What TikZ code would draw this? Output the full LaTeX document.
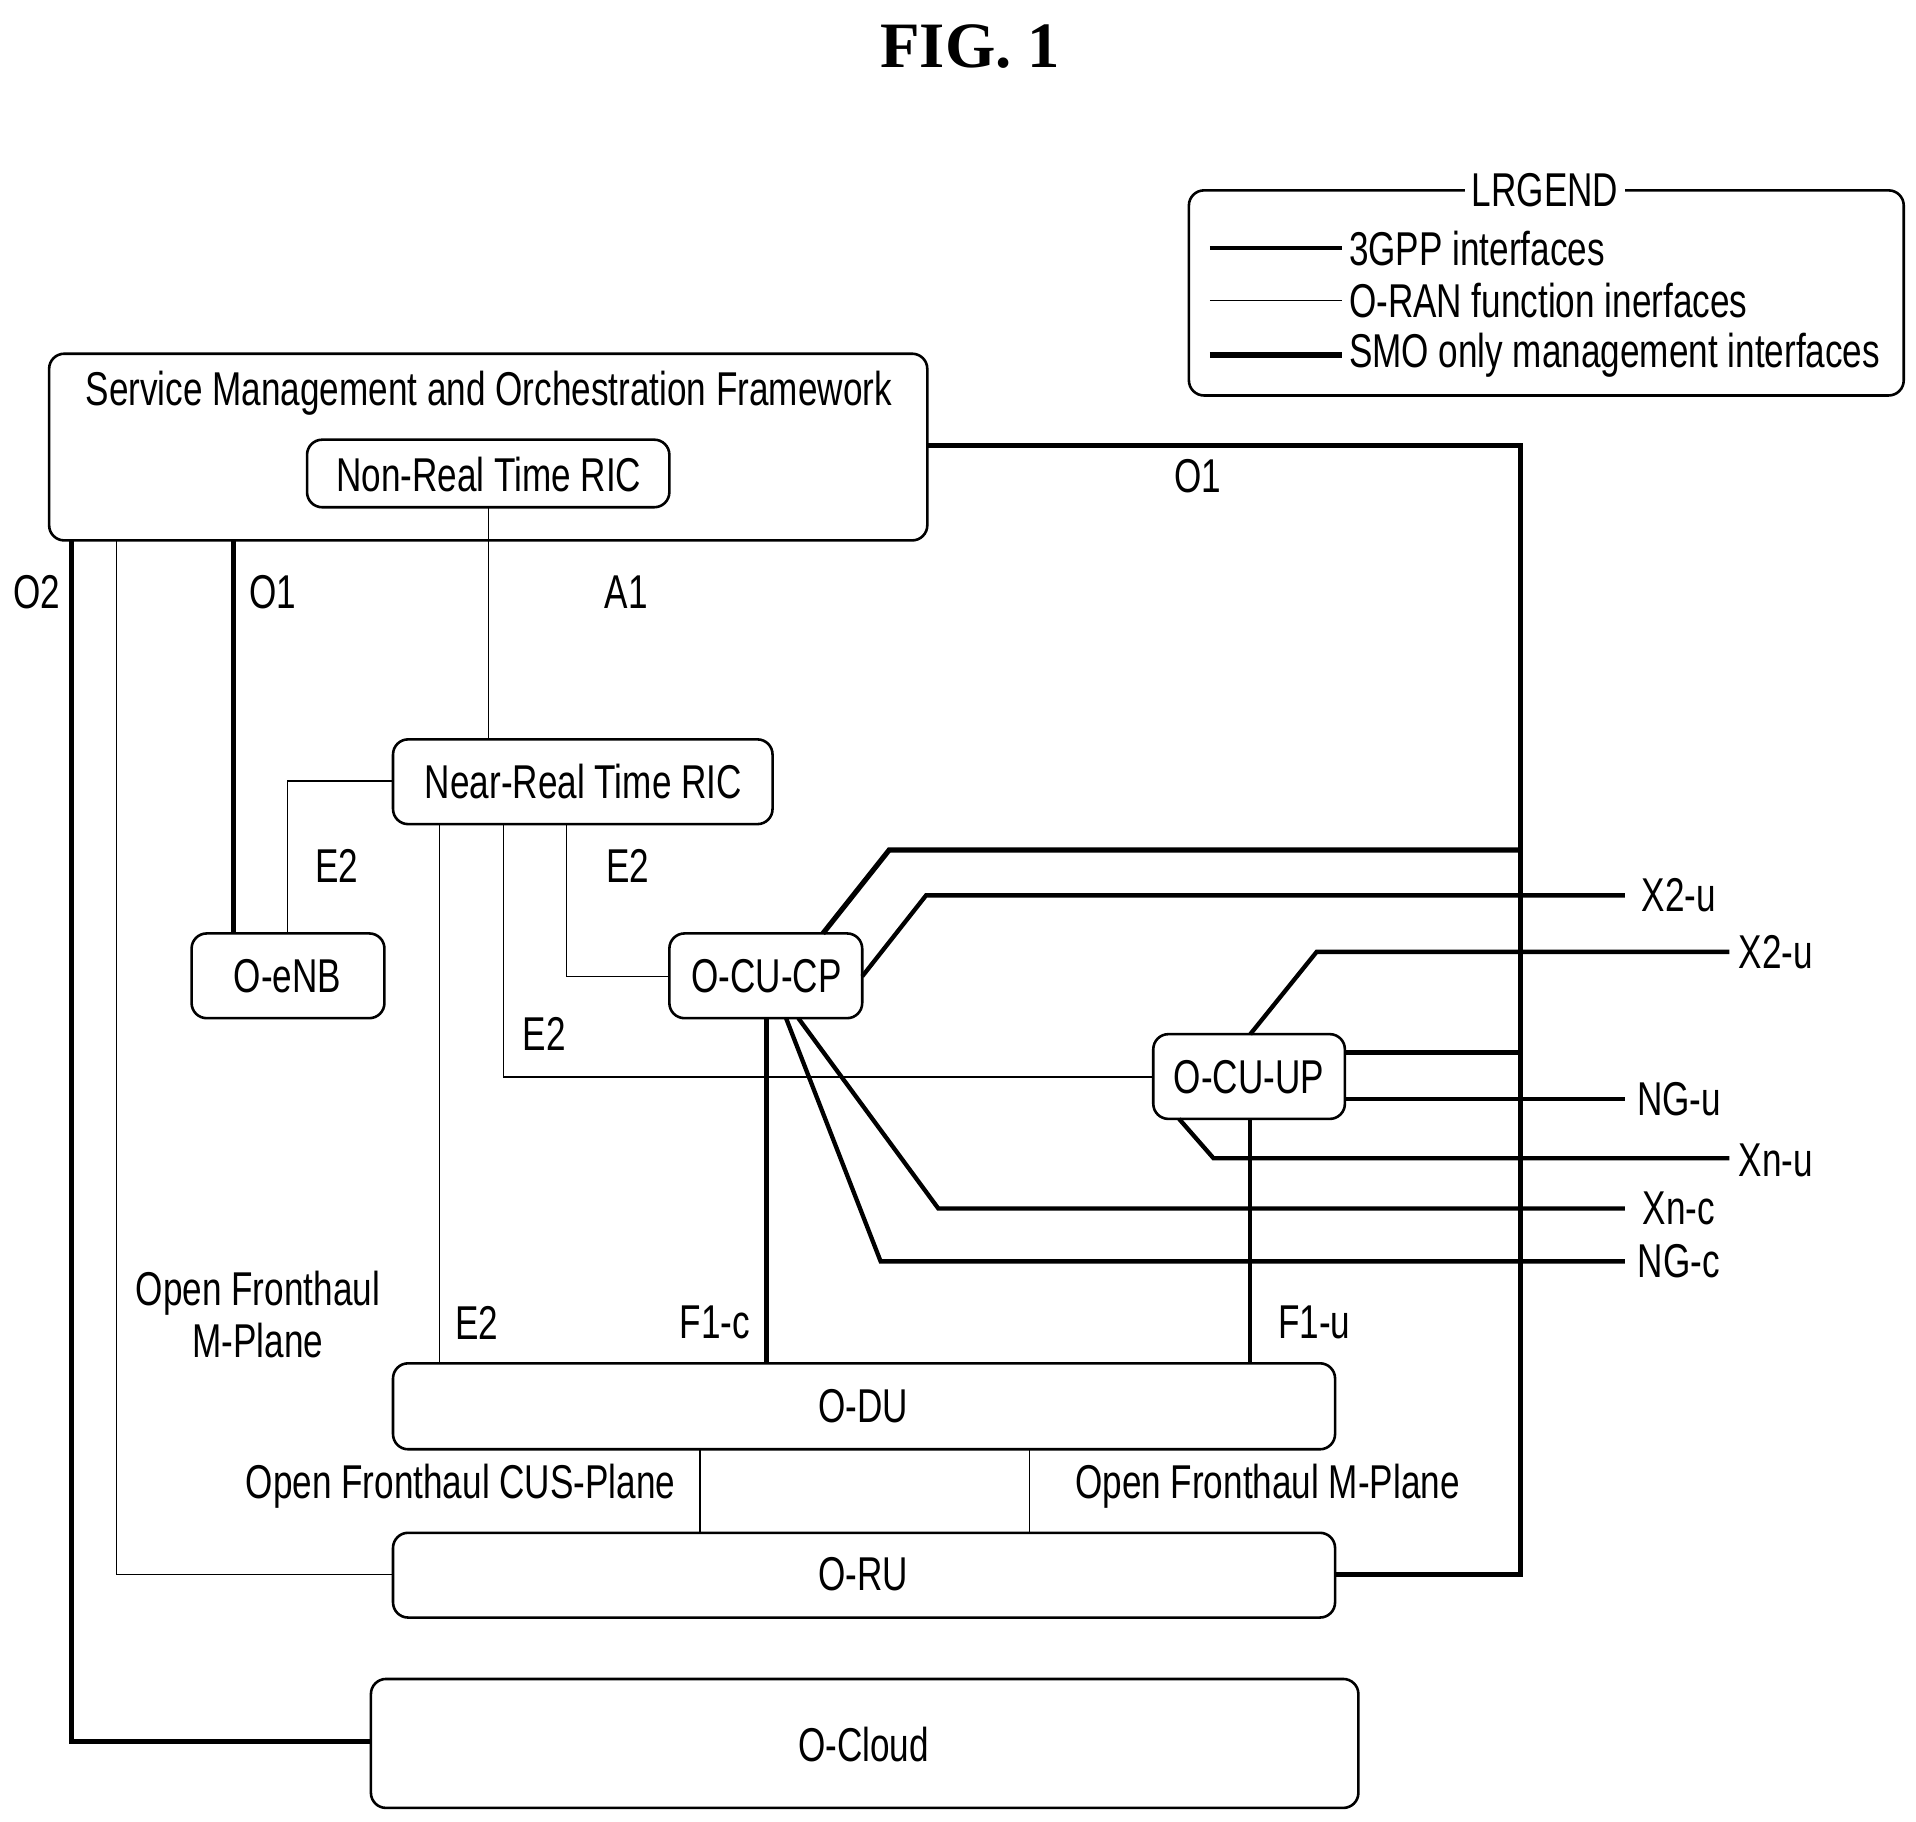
\documentclass[tikz,border=0pt]{standalone}
\usepackage{fontspec}
\setmainfont{Liberation Sans}[FakeStretch=0.74]
\newfontfamily\titlefont{Liberation Serif}
\usetikzlibrary{positioning}
\tikzset{
  blk/.style={draw, line width=1.2pt, rounded corners=7pt},
  lbl/.style={font=\fontsize{22}{24}\selectfont, inner sep=0pt},
  smo/.style={line width=2.4pt},
  ran/.style={line width=0.6pt},
  gpp/.style={line width=2pt}
}
\begin{document}
\begin{tikzpicture}[x=0.02cm, y=-0.02cm]
  \useasboundingbox (0,0) rectangle (1560,1483);
  \node[font=\titlefont\bfseries\fontsize{30}{32}\selectfont] (title) at (790,38) {FIG. 1};

  % legend
  \draw[blk] (968,155) rectangle (1550,322);
  \node[lbl, fill=white, inner xsep=3pt] (lgd) at (1258,155) {LRGEND};
  \coordinate (l1a) at (985,202); \coordinate (l1b) at (1093,202);
  \coordinate (l2a) at (985,245); \coordinate (l2b) at (1093,245);
  \coordinate (l3a) at (985,289); \coordinate (l3b) at (1093,289);
  \draw[gpp] (l1a) -- (l1b);
  \draw[line width=0.4pt] (l2a) -- (l2b);
  \draw[smo] (l3a) -- (l3b);
  \node[lbl, anchor=west] at (1098,202) {3GPP interfaces};
  \node[lbl, anchor=west] at (1098,245) {O-RAN function inerfaces};
  \node[lbl, anchor=west] at (1098,289) {SMO only management interfaces};

  % blocks
  \draw[blk] (40,288) rectangle (755,440);
  \node[lbl] (smo) at (398,320) {Service Management and Orchestration Framework};
  \draw[blk] (250,358) rectangle (545,413);
  \node[lbl] (nrt) at (398,386) {Non-Real Time RIC};
  \draw[blk] (320,602) rectangle (629,671);
  \node[lbl] (near) at (475,636) {Near-Real Time RIC};
  \draw[blk] (156,760) rectangle (313,829);
  \node[lbl] (enb) at (234,795) {O-eNB};
  \draw[blk] (545,760) rectangle (702,829);
  \node[lbl] (cucp) at (624,795) {O-CU-CP};
  \draw[blk] (939,842) rectangle (1095,911);
  \node[lbl] (cuup) at (1017,877) {O-CU-UP};
  \draw[blk] (320,1110) rectangle (1087,1180);
  \node[lbl] (du) at (703,1145) {O-DU};
  \draw[blk] (320,1248) rectangle (1087,1317);
  \node[lbl] (ru) at (703,1282) {O-RU};
  \draw[blk] (302,1367) rectangle (1106,1472);
  \node[lbl] (cloud) at (703,1420) {O-Cloud};

  % SMO interfaces
  \draw[smo] (755,363) -- (1238,363) -- (1238,1282) -- (1087,1282);
  \draw[smo] (1238,692) -- (724,692) -- (670,760);
  \draw[smo] (1095,857) -- (1238,857);
  \draw[smo] (58,440) -- (58,1418) -- (302,1418);
  \draw[smo] (190,440) -- (190,760);
  \draw[ran] (95,440) -- (95,1282) -- (320,1282);
  \node[lbl] at (975,388) {O1};
  \node[lbl] at (30,482) {O2};
  \node[lbl] at (222,482) {O1};

  % O-RAN interfaces
  \draw[ran] (398,413) -- (398,602);
  \node[lbl] at (510,482) {A1};
  \draw[ran] (320,636) -- (234,636) -- (234,760);
  \node[lbl] at (274,705) {E2};
  \draw[ran] (461,671) -- (461,795) -- (545,795);
  \node[lbl] at (511,705) {E2};
  \draw[ran] (410,671) -- (410,877) -- (939,877);
  \node[lbl] at (443,842) {E2};
  \draw[ran] (358,671) -- (358,1110);
  \node[lbl] at (388,1077) {E2};
  \draw[ran] (570,1180) -- (570,1248);
  \draw[ran] (838,1180) -- (838,1248);
  \node[lbl] at (375,1210) {Open Fronthaul CUS-Plane};
  \node[lbl] at (1032,1210) {Open Fronthaul M-Plane};
  \node[lbl, align=center] at (210,1070) {Open Fronthaul\\M-Plane};

  % 3GPP interfaces
  \draw[gpp] (624,829) -- (624,1110);
  \node[lbl] at (582,1077) {F1-c};
  \draw[gpp] (1018,911) -- (1018,1110);
  \node[lbl] at (1070,1077) {F1-u};
  \draw[gpp] (702,795) -- (754,729) -- (1323,729);
  \node[lbl] at (1367,729) {X2-u};
  \draw[gpp] (1018,842) -- (1072,775) -- (1408,775);
  \node[lbl] at (1446,775) {X2-u};
  \draw[gpp] (1095,895) -- (1323,895);
  \node[lbl] at (1367,895) {NG-u};
  \draw[gpp] (960,911) -- (988,943) -- (1408,943);
  \node[lbl] at (1446,945) {Xn-u};
  \draw[gpp] (650,829) -- (764,984) -- (1323,984);
  \node[lbl] at (1367,984) {Xn-c};
  \draw[gpp] (640,829) -- (717,1027) -- (1323,1027);
  \node[lbl] at (1367,1027) {NG-c};
\end{tikzpicture}
\end{document}
